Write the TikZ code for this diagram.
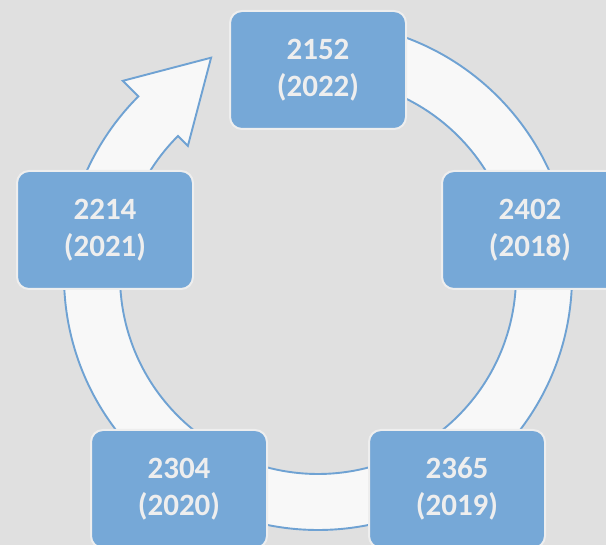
\documentclass[tikz,border=0pt]{standalone}
\usepackage{fontspec}
\setmainfont{Carlito}
\definecolor{bg}{HTML}{E0E0E0}
\definecolor{bandfill}{HTML}{F8F8F8}
\definecolor{bandline}{HTML}{6FA2D3}
\definecolor{boxfill}{HTML}{76A8D7}
\definecolor{boxline}{HTML}{EEEEEE}
\definecolor{txt}{HTML}{EEEEEE}
\tikzset{
  yearbox/.style={draw=boxline, line width=2pt, fill=boxfill, rounded corners=12pt,
    minimum width=176pt, minimum height=118pt, inner sep=0pt, align=center,
    text=txt, font=\fontsize{31}{37}\selectfont\bfseries},
  band/.style={fill=bandfill, draw=bandline, line width=1.9pt, line join=miter}
}
\begin{document}
\begin{tikzpicture}[x=1pt,y=1pt]
\fill[bg] (0,0) rectangle (606,545);
\useasboundingbox (0,0) rectangle (606,545);
\coordinate (c) at (318,269);
\coordinate (tip) at (211.1,487.3);
% circular arrow band
\draw[band] ([shift={(90:254)}]c) arc[start angle=90, end angle=-225, radius=254]
  -- ([shift={(135:276)}]c) -- (tip) -- ([shift={(135:184)}]c)
  -- ([shift={(135:198)}]c) arc[start angle=-225, end angle=90, radius=198] -- cycle;
% boxes
\node[yearbox] (b2152) at (318,475) {2152\\(2022)};
\node[yearbox] (b2214) at (105,315) {2214\\(2021)};
\node[yearbox] (b2402) at (530,315) {2402\\(2018)};
\node[yearbox] (b2304) at (179,56) {2304\\(2020)};
\node[yearbox] (b2365) at (457,56) {2365\\(2019)};
\end{tikzpicture}
\end{document}
